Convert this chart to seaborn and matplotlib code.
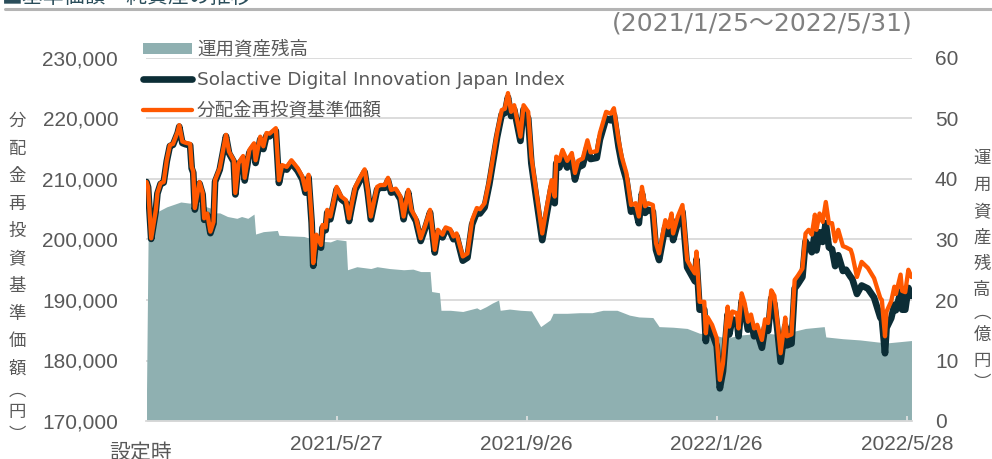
import pandas as pd
import matplotlib
matplotlib.use("Agg")
import matplotlib.pyplot as plt
from matplotlib.lines import Line2D
from matplotlib.patches import Patch
import seaborn as sns

# ---------------------------------------------------------------- data
LAUNCH = pd.Timestamp("2021-01-25")
PERIOD_TEXT = "(2021/1/25～2022/5/31)"
TITLE_TEXT = "■基準価額・純資産の推移"

# days elapsed since launch for the price series
nav_day = [
    0, 1, 3, 6, 7, 9, 11, 13, 15, 17,
    20, 21, 23, 25, 28, 29, 30, 31, 34, 36,
    37, 39, 41, 43, 44, 47, 50, 51, 53, 56,
    57, 59, 62, 63, 66, 69, 70, 73, 75, 77,
    79, 83, 84, 85, 87, 90, 93, 97, 100, 102,
    104, 106, 107, 109, 112, 113, 115, 116, 118, 120,
    122, 125, 128, 130, 132, 134, 137, 140, 142, 144,
    148, 150, 153, 155, 157, 160, 163, 165, 168, 170,
    173, 176, 179, 182, 185, 187, 190, 192, 195, 197,
    199, 203, 206, 209, 212, 214, 217, 220, 225, 228,
    230, 232, 234, 236, 240, 242, 245, 247, 250, 254,
    257, 260, 262, 263, 265, 267, 270, 273, 275, 277,
    280, 283, 285, 289, 291, 295, 298, 300, 303, 305,
    308, 311, 314, 316, 318, 320, 322, 325, 327, 329,
    333, 335, 337, 338, 341, 344, 347, 350, 352, 353,
    355, 358, 359, 360, 363, 366, 368, 370, 373, 374,
    376, 379, 380, 382, 384, 386, 388, 390, 392, 395,
    397, 399, 401, 403, 405, 407, 410, 411, 414, 416,
    418, 421, 423, 425, 427, 429, 430, 432, 434, 436,
    438, 440, 442, 444, 447, 449, 452, 453, 456, 459,
    463, 467, 471, 472, 474, 475, 478, 480, 481, 484,
    485, 487, 489, 491,
]

# 分配金再投資基準価額 (円)
nav_value = [
    209500, 208700, 200200, 204900, 207700, 209300, 209500, 213100, 215600, 215800,
    217800, 218900, 216200, 216000, 215800, 212000, 211300, 205200, 209500, 207700,
    203500, 204300, 201300, 202900, 209800, 211800, 215900, 217300, 214500, 213100,
    207700, 212600, 213800, 210200, 214800, 215900, 213100, 217000, 215400, 217600,
    217500, 218400, 214000, 209800, 212300, 212000, 213100, 211800, 210400, 208200,
    210700, 203200, 196100, 200800, 199100, 202400, 202000, 204900, 203800, 206200,
    208700, 207100, 206500, 203500, 206200, 208700, 210200, 211600, 208200, 203800,
    208700, 209000, 209000, 210200, 208200, 208400, 207100, 203800, 208200, 204900,
    203500, 200200, 202400, 204900, 198300, 201600, 200800, 202000, 201700, 200500,
    201000, 197200, 197700, 203200, 205200, 205000, 206000, 209800, 217600, 221400,
    221600, 224200, 221100, 222200, 217000, 222200, 221100, 213700, 208200, 201000,
    205500, 209800, 207100, 213700, 213000, 214800, 213000, 214300, 211000, 213000,
    213400, 216400, 214400, 214600, 217600, 221100, 220800, 221700, 216400, 213700,
    211000, 205700, 206000, 203800, 208700, 205500, 206000, 205700, 199400, 197700,
    203200, 202000, 204300, 201000, 203800, 205700, 196600, 195200, 194400, 198000,
    189700, 189700, 184500, 187200, 185900, 183700, 176800, 179500, 188900, 185600,
    188100, 187800, 185300, 191100, 189400, 186400, 187600, 185300, 185900, 183400,
    186800, 186200, 191600, 190700, 186200, 181200, 187100, 184000, 184300, 193300,
    194000, 195200, 201000, 201600, 200800, 204100, 201600, 204300, 202900, 206200,
    202700, 202700, 199700, 201600, 198900, 198700, 198300, 197500, 193800, 196300,
    195300, 193600, 190300, 190000, 184000, 188100, 189800, 192200, 191000, 194200,
    191500, 191300, 195000, 193800,
]

# Solactive Digital Innovation Japan Index (same scale)
index_value = [
    209500, 208650, 200100, 204800, 207600, 209200, 209400, 212950, 215450, 215650,
    217600, 218650, 215950, 215750, 215550, 211750, 211050, 204950, 209250, 207450,
    203250, 204050, 201050, 202650, 209550, 211550, 215650, 217050, 214250, 212850,
    207450, 212350, 213350, 209750, 214350, 215450, 212650, 216550, 214950, 217150,
    217050, 217950, 213550, 209350, 211850, 211550, 212650, 211350, 209950, 207750,
    210250, 202750, 195650, 200350, 198650, 201950, 201550, 204450, 203350, 205750,
    208250, 206650, 206050, 203050, 205750, 208250, 209750, 211150, 207750, 203350,
    208250, 208550, 208550, 209750, 207750, 207950, 206650, 203350, 207750, 204450,
    203050, 199750, 201950, 204450, 197850, 201150, 200350, 201550, 201250, 200050,
    200550, 196500, 197000, 202500, 204500, 204300, 205300, 209100, 216900, 220700,
    220900, 223500, 220400, 221500, 216300, 221500, 220000, 212600, 207100, 199900,
    204400, 208700, 206000, 212600, 211900, 213700, 211900, 213200, 209900, 211900,
    212300, 215300, 213300, 213500, 216500, 220000, 219700, 220600, 215300, 212600,
    209900, 204600, 204900, 202700, 207600, 204400, 204900, 204600, 198300, 196600,
    202100, 200900, 203200, 199900, 202700, 204600, 195400, 194000, 193100, 196700,
    188400, 188400, 183200, 185900, 184600, 182400, 175400, 178200, 187600, 184300,
    186800, 186500, 184000, 189800, 188100, 185100, 186300, 184000, 184600, 182100,
    185500, 184900, 190300, 189400, 184900, 179800, 185700, 182500, 182800, 191900,
    192600, 193800, 199700, 198900, 197900, 201000, 198200, 201200, 199600, 202700,
    198700, 198400, 195600, 197400, 194800, 195000, 193800, 193500, 191000, 192400,
    191900, 190400, 187100, 186900, 181200, 185400, 187000, 189200, 188300, 191400,
    188400, 188400, 192000, 190700,
]

# 運用資産残高 (億円), days elapsed since launch
aum_day = [
    0, 1, 7, 13, 22, 28, 30, 35, 41, 44,
    47, 52, 58, 61, 65, 69, 70, 75, 84, 85,
    92, 101, 105, 109, 118, 122, 128, 129, 135, 144,
    148, 156, 165, 171, 176, 182, 183, 188, 189, 195,
    203, 212, 214, 218, 222, 226, 227, 233, 240, 247,
    253, 259, 261, 270, 278, 286, 293, 302, 310, 316,
    325, 329, 338, 347, 355, 363, 372, 381, 389, 398,
    406, 415, 423, 435, 436, 447, 458, 468, 475, 483,
    491,
]
aum_value = [
    5.0, 29.9, 34.6, 35.4, 36.2, 36.0, 36.5, 35.7, 35.2, 34.4,
    34.4, 33.8, 33.5, 33.8, 33.5, 34.2, 30.9, 31.3, 31.5, 30.7,
    30.6, 30.5, 30.2, 29.8, 29.6, 30.0, 29.8, 25.0, 25.5, 25.2,
    25.5, 25.2, 25.0, 25.1, 24.7, 24.7, 21.4, 21.2, 18.3, 18.3,
    18.1, 18.7, 18.4, 18.9, 19.5, 20.0, 18.3, 18.5, 18.3, 18.2,
    15.6, 16.7, 17.8, 17.8, 17.9, 17.9, 18.3, 18.3, 17.5, 17.2,
    17.1, 15.6, 15.5, 15.3, 14.5, 14.3, 13.7, 14.2, 14.4, 14.5,
    14.3, 14.8, 15.3, 15.6, 13.9, 13.6, 13.4, 13.1, 12.9, 13.1,
    13.3,
]

tick_dates = ["2021-05-27", "2021-09-26", "2022-01-26", "2022-05-28"]
start_label = "設定時"
left_ticks = [170000, 180000, 190000, 200000, 210000, 220000, 230000]
right_ticks = [0, 10, 20, 30, 40, 50, 60]
legend_labels = ["運用資産残高", "Solactive Digital Innovation Japan Index", "分配金再投資基準価額"]
left_axis_title = "分配金再投資基準価額（円）"
right_axis_title = "運用資産残高（億円）"

# ---------------------------------------------------------------- style
AREA = "#8fb0b1"
NAVY = "#0c2d36"
ORANGE = "#ff5800"
GRAY = "#595959"
GRID = "#d9d9d9"
NUM_FONT = "Liberation Sans"
CJK_FONT = "Noto Sans CJK JP"

sns.set_theme(style="white")
plt.rcParams["font.family"] = ["DejaVu Sans", CJK_FONT]

W, H = 992, 459
fig = plt.figure(figsize=(W / 100, H / 100), dpi=100)
L, R, B, T = 146, 912, 421, 58
ax = fig.add_axes([L / W, 1 - B / H, (R - L) / W, (B - T) / H])
ax2 = ax.twinx()
ax.set_zorder(2)
ax2.set_zorder(1)
ax.patch.set_visible(False)

line_df = pd.DataFrame({
    "date": LAUNCH + pd.to_timedelta(nav_day, unit="D"),
    "nav": nav_value,
    "index": index_value,
})
aum_dates = LAUNCH + pd.to_timedelta(aum_day, unit="D")

# assets under management as a filled area on the right scale
ax2.fill_between(aum_dates, aum_value, 0, color=AREA, lw=0)

# price lines on the left scale: index underneath, fund on top
sns.lineplot(data=line_df, x="date", y="index", ax=ax, color=NAVY, lw=4.8,
             estimator=None, sort=False, solid_joinstyle="round", solid_capstyle="round")
sns.lineplot(data=line_df, x="date", y="nav", ax=ax, color=ORANGE, lw=3.1,
             estimator=None, sort=False, solid_joinstyle="round", solid_capstyle="round")

ax.set_xlabel("")
ax.set_ylabel("")
ax2.set_ylabel("")

ax.set_xlim(LAUNCH - pd.Timedelta(hours=8), LAUNCH + pd.Timedelta(days=491, hours=8))
ax.set_ylim(left_ticks[0], left_ticks[-1])
ax2.set_ylim(right_ticks[0], right_ticks[-1])

# y axes
ax.set_yticks(left_ticks)
ax.set_yticklabels([f"{v:,}" for v in left_ticks], fontfamily=NUM_FONT)
ax.tick_params(axis="y", length=0, pad=20, labelsize=15, labelcolor=GRAY)
ax2.set_yticks(right_ticks)
ax2.set_yticklabels([str(v) for v in right_ticks], fontfamily=NUM_FONT)
ax2.tick_params(axis="y", length=0, pad=16.5, labelsize=15, labelcolor=GRAY)

# gridlines sit behind the area
ax2.yaxis.grid(True, color=GRID, lw=1.3)
ax2.set_axisbelow(True)
ax.grid(False)

# x axis
tdates = pd.to_datetime(tick_dates)
ax.set_xticks(tdates)
ax.set_xticklabels([f"{d.year}/{d.month}/{d.day}" for d in tdates], fontfamily=NUM_FONT)
ax.tick_params(axis="x", direction="in", length=3.6, width=1.2, color="#e4e4e4",
               pad=10, labelsize=15, labelcolor=GRAY, bottom=True)

for s in ax.spines.values():
    s.set_visible(False)
for s in ax2.spines.values():
    s.set_visible(False)
ax.spines["bottom"].set_visible(True)
ax.spines["bottom"].set_color(GRID)
ax.spines["bottom"].set_linewidth(1.3)

# legend
handles = [
    Patch(facecolor=AREA, edgecolor="none"),
    Line2D([], [], color=NAVY, lw=4.8, solid_capstyle="round"),
    Line2D([], [], color=ORANGE, lw=3.1, solid_capstyle="round"),
]
leg = ax.legend(handles, legend_labels, loc="upper left",
                bbox_to_anchor=(143 / W, 1 - 41 / H), bbox_transform=fig.transFigure,
                frameon=False, fontsize=13.3, handlelength=2.65, handleheight=0.5,
                handletextpad=0.27, labelspacing=0.66, borderpad=0, borderaxespad=0)
for t in leg.get_texts():
    t.set_color(GRAY)

# stacked vertical axis titles
def vertical_title(text, x, y0, step, paren_step):
    vert = text.replace("（", "︵").replace("）", "︶")
    parens = "︵︶"
    y = y0
    prev = None
    for ch in vert:
        if prev is not None:
            y += paren_step if (ch in parens or prev in parens) else step
        fig.text(x / W, 1 - y / H, ch, ha="center", va="center", fontsize=12.5,
                 family=CJK_FONT, color=GRAY)
        prev = ch

vertical_title(left_axis_title, 17, 121, 27.5, 22)
vertical_title(right_axis_title, 982, 158, 26.5, 22)

# launch label, period and heading
fig.text(141 / W, 1 - 453 / H, start_label, ha="center", va="center", fontsize=15,
         family=CJK_FONT, color=GRAY)
fig.text(913 / W, 1 - 23 / H, PERIOD_TEXT, ha="right", va="center", fontsize=18,
         family=["DejaVu Sans", CJK_FONT], color="#808080")
fig.text(2 / W, 1 - 3 / H, TITLE_TEXT, ha="left", va="baseline", fontsize=15,
         family=CJK_FONT, color="#2a4d5a")
fig.add_artist(Line2D([5 / W, 1], [1 - 8.5 / H, 1 - 8.5 / H], transform=fig.transFigure,
                      color="#b4b4b4", lw=2.2))

fig.savefig("out.png", dpi=100)
